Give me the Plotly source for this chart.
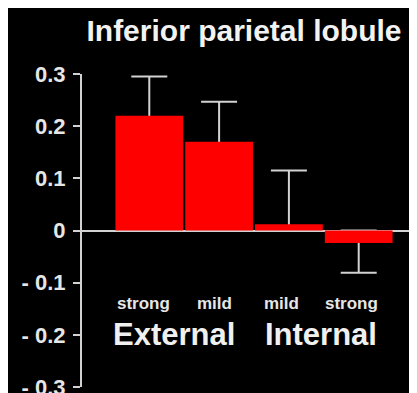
import plotly.graph_objects as go

# Data
positions = [0, 1, 2, 3]
conditions = ["strong", "mild", "mild", "strong"]
groups = ["External", "Internal"]
means = [0.220, 0.170, 0.012, -0.024]
err_up = [0.075, 0.077, 0.103, 0.0]
err_down = [0.0, 0.0, 0.0, 0.057]
y_ticks = [0.3, 0.2, 0.1, 0, -0.1, -0.2, -0.3]
y_ticktext = ["0.3", "0.2", "0.1", "0", "- 0.1", "- 0.2", "- 0.3"]

FONT = "Liberation Sans, Arial, sans-serif"
LIGHT = "#d2d2d2"
W, H = 417, 393
OFF = 8  # page body margin offset

# error bars run from zero to the tip so the red bar hides the inner part
plus = [u if m >= 0 else -m for m, u in zip(means, err_up)]
minus = [m if m >= 0 else d for m, d in zip(means, err_down)]

fig = go.Figure()
fig.add_trace(go.Bar(
    x=positions, y=means, width=0.98,
    marker=dict(color="rgba(0,0,0,0)", line=dict(width=0)),
    error_y=dict(type="data", symmetric=False, array=plus, arrayminus=minus,
                 color=LIGHT, thickness=2, width=18),
    hoverinfo="skip", showlegend=False,
))
fig.add_trace(go.Bar(
    x=positions, y=means, width=0.97,
    marker=dict(color="#ff0000", line=dict(width=0)),
    showlegend=False,
))

annotations = []
cond_x = [-0.076, 0.93, 1.89, 2.90]
for cx, c in zip(cond_x, conditions):
    annotations.append(dict(x=cx, y=-0.140, xref="x", yref="y", text="<b>%s</b>" % c,
                            showarrow=False, font=dict(family=FONT, size=17, color="#e6e6e6")))
group_x = [0.354, 2.46]
for gx, g in zip(group_x, groups):
    annotations.append(dict(x=gx, y=-0.199, xref="x", yref="y", text="<b>%s</b>" % g,
                            showarrow=False, font=dict(family=FONT, size=31, color="#f0f0f0")))

fig.update_layout(
    width=W, height=H,
    margin=dict(l=82 - OFF, r=OFF, t=74 - OFF, b=H - (387 - OFF), autoexpand=False),
    paper_bgcolor="black", plot_bgcolor="black",
    barmode="overlay",
    title=dict(text="<b>Inferior parietal lobule</b>", x=(244 - OFF) / W, xanchor="center",
               y=1 - (30 - OFF) / H, yanchor="middle",
               font=dict(family=FONT, size=30, color="#f2f2f2")),
    xaxis=dict(range=[-0.964, 3.835], showline=False, showticklabels=False,
               showgrid=False, zeroline=False, ticks=""),
    yaxis=dict(range=[-0.3, 0.3], tickvals=y_ticks,
               ticktext=["<b>%s</b>" % t for t in y_ticktext],
               showline=True, linecolor=LIGHT, linewidth=2,
               ticks="outside", ticklen=7, tickwidth=2, tickcolor=LIGHT,
               ticklabelstandoff=3,
               showgrid=False, zeroline=True, zerolinecolor=LIGHT, zerolinewidth=2,
               tickfont=dict(family=FONT, size=22, color="#e6e6e6")),
    annotations=annotations,
)

fig.write_html("out.html")
